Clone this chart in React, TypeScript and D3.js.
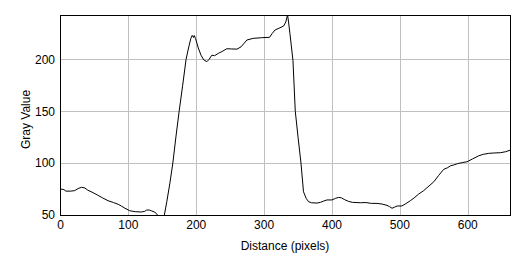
import React from "react";
import * as d3 from "d3";

const distance = [0, 5, 8, 15, 21, 26, 31, 36, 40, 48, 55, 62, 70, 78, 85, 90, 95, 102, 110, 119, 124, 127, 131, 134, 138, 141, 144, 148, 151, 153, 156.6, 161, 165.5, 170, 174.8, 180, 185, 189, 192, 194, 196, 197, 199, 203, 207, 211, 215.6, 219, 223, 227, 232.7, 238, 245, 252, 260, 266, 274.6, 284, 296, 308, 312, 316, 322, 328.6, 332, 334.5, 336, 338, 342.5, 345.9, 350, 354.3, 358, 362, 365.5, 370, 378, 383, 388, 392.6, 400, 405, 410, 414, 418, 424, 430, 441.7, 450, 458, 466.4, 474, 481, 485, 488.5, 492, 496, 503, 509, 515.5, 522, 527.7, 535, 543, 550, 557, 564.6, 570, 575, 579.4, 585, 592, 599, 607, 616, 623, 631, 640, 648, 656, 663];
const grayValue = [75, 74.5, 73, 73, 73.5, 75.5, 76.7, 76, 74, 71.5, 69, 66.5, 63.8, 62, 60.3, 58.5, 56.5, 54.1, 53.2, 52.9, 53.5, 54.8, 54.8, 54, 53, 51.6, 49, 47.5, 48, 50, 62.8, 80, 100, 125, 150, 175, 200, 212, 220, 223, 221, 223, 220, 211, 204, 199.5, 197.7, 200, 204, 203.5, 205.8, 207.5, 210.2, 210, 209.8, 212, 218.6, 220.2, 220.8, 221.2, 225, 228.2, 230, 232, 236, 243, 236, 225, 199, 150, 125, 100, 72.4, 66, 62.8, 61.8, 61.5, 62.2, 63.5, 64.5, 64.5, 66, 67, 66.5, 65, 63.2, 62.2, 61.8, 62, 61.2, 61.2, 60.5, 59.3, 58, 56.5, 57.5, 58.7, 58.7, 61, 63.8, 67, 70.2, 73.4, 78, 82, 88, 94, 95.5, 97.5, 98.2, 99.5, 100.5, 101.3, 104, 107, 108.5, 109.4, 109.8, 110, 111, 112.6];
const xTicks = [0, 100, 200, 300, 400, 500, 600];
const yTicks = [50, 100, 150, 200];
const xTitle = "Distance (pixels)";
const yTitle = "Gray Value";

export default function App() {
  const W = 528, H = 255;
  const left = 60.5, right = 510.5, top = 15, bottom = 215;
  const x = d3.scaleLinear().domain([0, 663]).range([left, right]);
  const y = d3.scaleLinear().domain([50, 242.7]).range([bottom, top]);
  const pts: [number, number][] = distance.map((d, i) => [d, grayValue[i]]);
  const line = d3.line<[number, number]>().x(d => x(d[0])).y(d => y(d[1]));
  const font = "'Liberation Sans', Arial, sans-serif";
  return (
    <div style={{ position: "absolute", left: 0, top: 0 }}>
      <svg width={W} height={H} style={{ display: "block", background: "#fff" }}>
        <defs>
          <clipPath id="plotclip">
            <rect x={left} y={top} width={right - left} height={bottom - top} />
          </clipPath>
        </defs>
        <rect x={0} y={0} width={W} height={H} fill="#fff" />
        {xTicks.filter(t => t > 0).map(t => (
          <line key={"gx" + t} x1={Math.round(x(t)) + 0.5} x2={Math.round(x(t)) + 0.5} y1={top} y2={bottom} stroke="#c0c0c0" strokeWidth={1} />
        ))}
        {yTicks.filter(t => t > 50).map(t => (
          <line key={"gy" + t} x1={left} x2={right} y1={Math.round(y(t)) + 0.5} y2={Math.round(y(t)) + 0.5} stroke="#c0c0c0" strokeWidth={1} />
        ))}
        <path d={line(pts) || ""} fill="none" stroke="#000" strokeWidth={1} clipPath="url(#plotclip)" />
        <rect x={left} y={top + 0.5} width={right - left} height={bottom - top} fill="none" stroke="#000" strokeWidth={1} />
        {xTicks.map(t => (
          <text key={"tx" + t} x={x(t)} y={229} textAnchor="middle" fontFamily={font} fontSize={12} fill="#000">{t}</text>
        ))}
        {yTicks.map(t => (
          <text key={"ty" + t} x={55} y={y(t) + 4.3} textAnchor="end" fontFamily={font} fontSize={12} fill="#000">{t}</text>
        ))}
        <text x={285} y={249.5} textAnchor="middle" fontFamily={font} fontSize={12} fill="#000">{xTitle}</text>
        <text transform={`translate(29.5,119.5) rotate(-90)`} textAnchor="middle" fontFamily={font} fontSize={12} fill="#000">{yTitle}</text>
      </svg>
    </div>
  );
}
